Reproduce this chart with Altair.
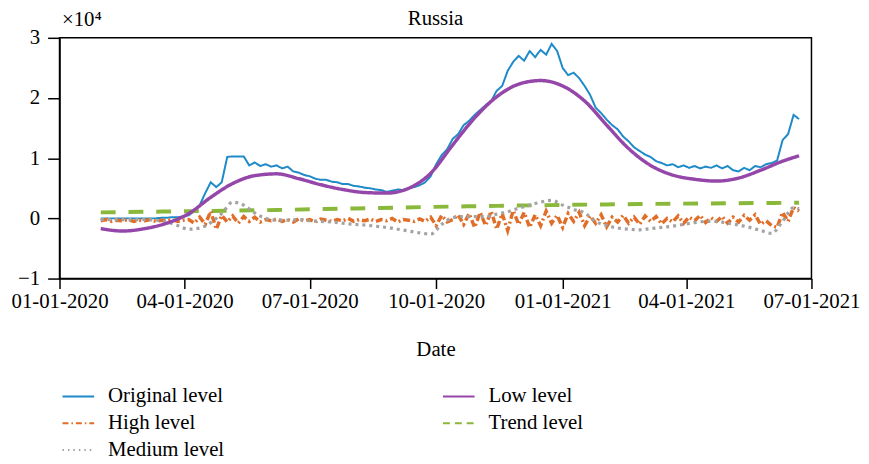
import altair as alt
import pandas as pd

# ---- data (values in units of 10^4) ----
start_date = "2020-01-31"
step_days = 4  # grid step of the sampled series

original = [0.0, 0.0, 0.0, 0.0, 0.0, 0.0, 0.0, 0.0, 0.0, 0.0, 0.0, 0.01, 0.01, 0.02, 0.02, 0.03,
            0.05, 0.12, 0.22, 0.42, 0.6, 0.52, 0.6, 1.02, 1.03, 1.03, 1.03, 0.88, 0.93, 0.87, 0.9,
            0.86, 0.88, 0.83, 0.86, 0.78, 0.76, 0.72, 0.7, 0.66, 0.64, 0.64, 0.61, 0.6, 0.57, 0.57,
            0.54, 0.53, 0.51, 0.5, 0.48, 0.47, 0.44, 0.46, 0.48, 0.47, 0.5, 0.52, 0.55, 0.6, 0.7,
            0.9, 1.05, 1.15, 1.32, 1.4, 1.55, 1.62, 1.72, 1.8, 1.88, 1.95, 2.12, 2.2, 2.45, 2.6,
            2.7, 2.62, 2.78, 2.68, 2.8, 2.72, 2.9, 2.78, 2.5, 2.38, 2.42, 2.33, 2.2, 2.05, 1.84,
            1.75, 1.64, 1.55, 1.48, 1.36, 1.28, 1.18, 1.12, 1.06, 1.02, 0.95, 0.92, 0.88, 0.9,
            0.85, 0.88, 0.84, 0.87, 0.83, 0.86, 0.84, 0.88, 0.83, 0.87, 0.8, 0.78, 0.84, 0.8,
            0.87, 0.85, 0.9, 0.92, 0.96, 1.3, 1.4, 1.72, 1.65]

high = [-0.04, -0.02, -0.05, -0.03, -0.04, -0.02, -0.05, -0.03, -0.04, -0.02, -0.05, -0.03,
        -0.04, -0.02, -0.05, -0.03,
        -0.02, -0.08, 0.02, -0.1, 0.12, -0.18, 0.05, -0.06, 0.04, -0.08, 0.03, -0.05, 0.02,
        -0.06, -0.02,
        -0.04, -0.01, -0.05, -0.02, -0.06, -0.01, -0.04, -0.02, -0.06, -0.01, -0.03, -0.05,
        -0.02, -0.04, 0.0, -0.05, -0.02, -0.04, -0.01, -0.05, -0.02, -0.04, 0.0, -0.06, -0.02,
        -0.03, -0.05, -0.01,
        -0.05, 0.02, -0.12, 0.05, -0.06, -0.02, 0.06, -0.1, 0.08, -0.15, 0.1, -0.12, 0.12,
        -0.18, 0.08, -0.2, 0.13, -0.1, 0.1, -0.15, 0.06, -0.12, 0.12, -0.08, 0.05, -0.15, 0.08,
        -0.05, 0.1, -0.12, 0.04, -0.08, 0.06, -0.14, 0.02, -0.06, 0.05,
        -0.08, 0.02, -0.1, 0.04, -0.05, 0.03, -0.09, 0.0, -0.06, 0.04, -0.08, 0.02, -0.04,
        0.05, -0.07, 0.01, -0.05, 0.03, -0.08, 0.02, -0.06, 0.05, -0.03, 0.06, -0.1, -0.04,
        -0.12,
        -0.15, 0.1, -0.05, 0.18, 0.12]

low_k = list(range(0, 128, 4)) + [127]
low = [-0.17, -0.21, -0.17, -0.08, 0.08, 0.35, 0.58, 0.71, 0.74, 0.66, 0.56, 0.48, 0.43,
       0.42, 0.5, 0.75, 1.22, 1.67, 2.02, 2.23, 2.29, 2.2, 1.95, 1.55, 1.16, 0.88, 0.72, 0.65,
       0.62, 0.67, 0.8, 0.95, 1.04]

medium_k = list(range(0, 128, 2)) + [127]
medium = [-0.02, -0.02, -0.02, -0.02, -0.02, -0.03, -0.06, -0.12, -0.18, -0.16, -0.07, 0.08,
          0.27, 0.22, 0.09, 0.0, -0.03, -0.03, -0.02, -0.04, -0.05, -0.06, -0.08, -0.1, -0.11,
          -0.13, -0.15, -0.18, -0.21, -0.24, -0.26, -0.1, 0.01, 0.03, 0.03, 0.03, 0.07, 0.11,
          0.17, 0.22, 0.27, 0.3, 0.22, 0.15, 0.09, -0.05, -0.12, -0.16, -0.18, -0.19, -0.17,
          -0.15, -0.13, -0.1, -0.07, -0.05, -0.05, -0.08, -0.11, -0.15, -0.2, -0.25, -0.05,
          0.18, 0.16]

trend_k = [0, 32, 60, 90, 127]
trend = [0.10, 0.14, 0.19, 0.23, 0.26]

x_ticks = ["2020-01-01", "2020-04-01", "2020-07-01", "2020-10-01",
           "2021-01-01", "2021-04-01", "2021-07-01"]
y_ticks = [-1, 0, 1, 2, 3]

# legend is filled column by column: 3 rows x 2 columns
series_order = ["Original level", "High level", "Medium level", "Low level", "Trend level"]
series_colors = ["#1f8ac8", "#e06e28", "#a3a3a3", "#9546a9", "#8ab83a"]
legend_dash = [[1, 0], [6, 3, 1.5, 3], [1.5, 4], [1, 0], [7, 5]]

# ---- build long table ----
t0 = pd.Timestamp(start_date)


def rows(name, ks, vals):
    return [{"date": (t0 + pd.Timedelta(days=step_days * k)).strftime("%Y-%m-%dT00:00:00"),
             "value": v, "series": name} for k, v in zip(ks, vals)]


records = []
records += rows("Original level", range(len(original)), original)
records += rows("High level", range(len(high)), high)
records += rows("Low level", low_k, low)
records += rows("Medium level", medium_k, medium)
records += rows("Trend level", trend_k, trend)
df = pd.DataFrame(records)

FONT = "Liberation Serif, Times New Roman, DejaVu Serif, serif"
FS = 21


def dt(s):
    y, m, d = s.split("-")
    return alt.DateTime(year=int(y), month=int(m), date=int(d))


x_enc = alt.X("date:T",
              scale=alt.Scale(domain=[dt(x_ticks[0]), dt(x_ticks[-1])], nice=False),
              axis=alt.Axis(values=[dt(s) for s in x_ticks], format="%m-%d-%Y",
                            title="Date", titlePadding=28, labelPadding=2,
                            tickSize=10, grid=False, labelFlush=False, labelOverlap=False))
y_enc = alt.Y("value:Q",
              scale=alt.Scale(domain=[-1, 3], nice=False, zero=False),
              axis=alt.Axis(values=y_ticks, title="×10⁴", titleAngle=0, titleAlign="left",
                            titleBaseline="bottom", titleX=2, titleY=-8,
                            tickSize=12, labelPadding=8, grid=False))

legend_kw = dict(title=None, orient="none", legendX=2, legendY=345,
                 columns=2, columnPadding=216, rowPadding=0,
                 symbolType="stroke", symbolSize=1020,
                 symbolStrokeWidth=2, labelFontSize=FS,
                 labelFont=FONT, labelOffset=13, labelLimit=400)

color_scale = alt.Scale(domain=series_order, range=series_colors)
color_enc = alt.Color("series:N", scale=color_scale, legend=alt.Legend(**legend_kw))
dash_enc = alt.StrokeDash("series:N",
                          scale=alt.Scale(domain=series_order, range=legend_dash),
                          legend=alt.Legend(**legend_kw))

base = alt.Chart(df)

# (series, interpolation, stroke width, dash pattern in the plot)
draw = [("Original level", "linear", 2.0, [1, 0]),
        ("Trend level", "monotone", 4.0, [15, 13]),
        ("High level", "linear", 3.5, [7, 3, 2, 3]),
        ("Medium level", "monotone", 3.2, [3, 4]),
        ("Low level", "monotone", 3.5, [1, 0])]

layers = []
for name, interp, w, dash in draw:
    layers.append(
        base.transform_filter(alt.datum.series == name)
        .mark_line(interpolate=interp, strokeWidth=w, strokeDash=dash)
        .encode(x=x_enc, y=y_enc, color=color_enc)
    )

# an empty layer that only carries the legend's dash patterns
layers.append(
    base.transform_filter(alt.datum.series == "__none__")
    .mark_line()
    .encode(x=x_enc, y=y_enc, color=color_enc, strokeDash=dash_enc)
)

chart = alt.layer(*layers).properties(
    width=759, height=243,
    title=alt.TitleParams("Russia", fontSize=FS, font=FONT, fontWeight="normal",
                          color="black", offset=-3, dy=17),
    autosize=alt.AutoSizeParams(type="none"),
    padding={"left": 52, "top": 28, "right": 50, "bottom": 177},
).configure_view(
    stroke="black", strokeWidth=1.5
).configure_axis(
    domainColor="black", domainWidth=1.5, tickColor="black", tickWidth=1.5,
    labelFont=FONT, labelFontSize=FS, labelColor="black",
    titleFont=FONT, titleFontSize=FS, titleColor="black", titleFontWeight="normal"
).configure_legend(
    labelColor="black"
)

chart.save("out.html", embed_options={"renderer": "svg", "actions": False})
